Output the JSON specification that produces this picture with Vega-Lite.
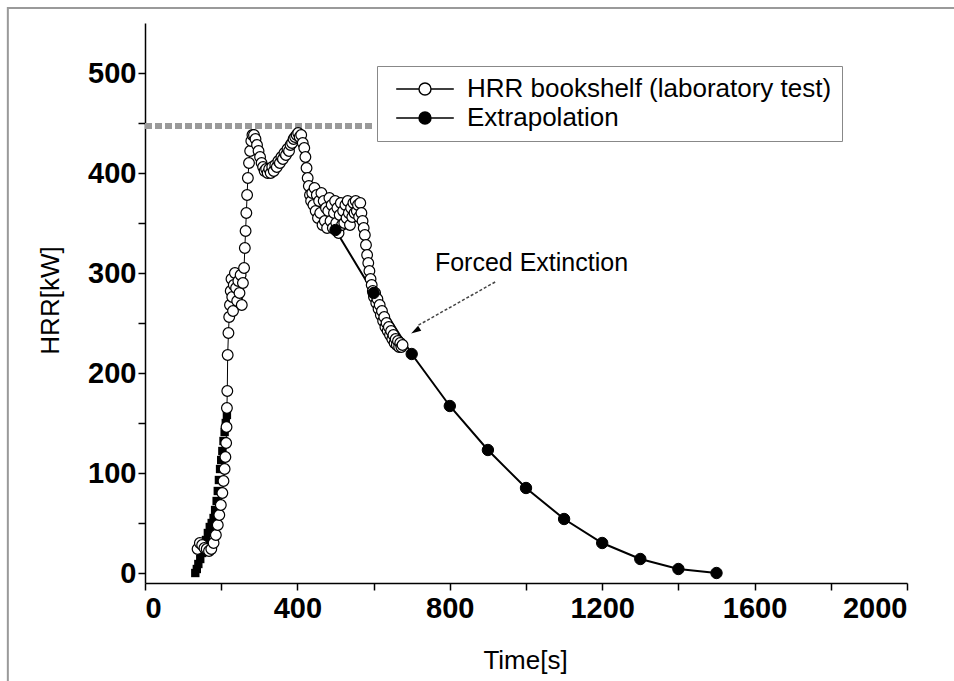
{
  "$schema": "https://vega.github.io/schema/vega-lite/v6.json",
  "width": 762,
  "height": 560,
  "autosize": {"type": "none"},
  "padding": {"left": 145, "top": 23, "right": 47, "bottom": 98},
  "background": "white",
  "config": {
    "view": {"stroke": null},
    "font": "Liberation Sans",
    "axis": {
      "grid": false,
      "domainColor": "black",
      "domainWidth": 1.5,
      "tickColor": "black",
      "tickWidth": 1.5,
      "tickSize": 7,
      "labelFont": "Liberation Sans",
      "labelFontWeight": "bold",
      "labelFontSize": 29,
      "labelColor": "black",
      "titleFont": "Liberation Sans",
      "titleFontWeight": "normal",
      "titleFontSize": 26,
      "titleColor": "black"
    },
    "legend": {
      "orient": "none",
      "legendX": 232,
      "legendY": 43,
      "padding": 10,
      "symbolOffset": 25,
      "labelOffset": 29,
      "rowPadding": 3,
      "strokeColor": "#888888",
      "fillColor": "white",
      "symbolSize": 144,
      "symbolStrokeWidth": 1.4,
      "symbolStrokeColor": "black",
      "symbolOpacity": 1,
      "labelFont": "Liberation Sans",
      "labelFontSize": 26,
      "labelColor": "black",
      "labelLimit": 0
    }
  },
  "datasets": {
    "pts": [
      {"t": 138, "hrr": 24, "s": "HRR bookshelf (laboratory test)"},
      {"t": 144, "hrr": 30, "s": "HRR bookshelf (laboratory test)"},
      {"t": 150, "hrr": 28, "s": "HRR bookshelf (laboratory test)"},
      {"t": 156, "hrr": 25, "s": "HRR bookshelf (laboratory test)"},
      {"t": 162, "hrr": 24, "s": "HRR bookshelf (laboratory test)"},
      {"t": 168, "hrr": 22, "s": "HRR bookshelf (laboratory test)"},
      {"t": 174, "hrr": 24, "s": "HRR bookshelf (laboratory test)"},
      {"t": 180, "hrr": 30, "s": "HRR bookshelf (laboratory test)"},
      {"t": 186, "hrr": 38, "s": "HRR bookshelf (laboratory test)"},
      {"t": 191, "hrr": 48, "s": "HRR bookshelf (laboratory test)"},
      {"t": 195, "hrr": 58, "s": "HRR bookshelf (laboratory test)"},
      {"t": 199, "hrr": 68, "s": "HRR bookshelf (laboratory test)"},
      {"t": 203, "hrr": 80, "s": "HRR bookshelf (laboratory test)"},
      {"t": 206, "hrr": 92, "s": "HRR bookshelf (laboratory test)"},
      {"t": 209, "hrr": 104, "s": "HRR bookshelf (laboratory test)"},
      {"t": 211, "hrr": 116, "s": "HRR bookshelf (laboratory test)"},
      {"t": 213, "hrr": 130, "s": "HRR bookshelf (laboratory test)"},
      {"t": 214, "hrr": 146, "s": "HRR bookshelf (laboratory test)"},
      {"t": 215, "hrr": 165, "s": "HRR bookshelf (laboratory test)"},
      {"t": 216, "hrr": 182, "s": "HRR bookshelf (laboratory test)"},
      {"t": 217, "hrr": 218, "s": "HRR bookshelf (laboratory test)"},
      {"t": 219, "hrr": 240, "s": "HRR bookshelf (laboratory test)"},
      {"t": 221, "hrr": 256, "s": "HRR bookshelf (laboratory test)"},
      {"t": 223, "hrr": 268, "s": "HRR bookshelf (laboratory test)"},
      {"t": 225, "hrr": 282, "s": "HRR bookshelf (laboratory test)"},
      {"t": 227, "hrr": 294, "s": "HRR bookshelf (laboratory test)"},
      {"t": 229, "hrr": 276, "s": "HRR bookshelf (laboratory test)"},
      {"t": 231, "hrr": 262, "s": "HRR bookshelf (laboratory test)"},
      {"t": 233, "hrr": 288, "s": "HRR bookshelf (laboratory test)"},
      {"t": 236, "hrr": 300, "s": "HRR bookshelf (laboratory test)"},
      {"t": 239, "hrr": 285, "s": "HRR bookshelf (laboratory test)"},
      {"t": 242, "hrr": 272, "s": "HRR bookshelf (laboratory test)"},
      {"t": 245, "hrr": 292, "s": "HRR bookshelf (laboratory test)"},
      {"t": 248, "hrr": 280, "s": "HRR bookshelf (laboratory test)"},
      {"t": 251, "hrr": 298, "s": "HRR bookshelf (laboratory test)"},
      {"t": 254, "hrr": 268, "s": "HRR bookshelf (laboratory test)"},
      {"t": 257, "hrr": 290, "s": "HRR bookshelf (laboratory test)"},
      {"t": 260, "hrr": 305, "s": "HRR bookshelf (laboratory test)"},
      {"t": 262, "hrr": 325, "s": "HRR bookshelf (laboratory test)"},
      {"t": 264, "hrr": 342, "s": "HRR bookshelf (laboratory test)"},
      {"t": 266, "hrr": 360, "s": "HRR bookshelf (laboratory test)"},
      {"t": 268, "hrr": 378, "s": "HRR bookshelf (laboratory test)"},
      {"t": 270, "hrr": 395, "s": "HRR bookshelf (laboratory test)"},
      {"t": 273, "hrr": 410, "s": "HRR bookshelf (laboratory test)"},
      {"t": 276, "hrr": 422, "s": "HRR bookshelf (laboratory test)"},
      {"t": 279, "hrr": 432, "s": "HRR bookshelf (laboratory test)"},
      {"t": 282, "hrr": 438, "s": "HRR bookshelf (laboratory test)"},
      {"t": 286, "hrr": 438, "s": "HRR bookshelf (laboratory test)"},
      {"t": 290, "hrr": 434, "s": "HRR bookshelf (laboratory test)"},
      {"t": 294, "hrr": 428, "s": "HRR bookshelf (laboratory test)"},
      {"t": 298, "hrr": 422, "s": "HRR bookshelf (laboratory test)"},
      {"t": 302, "hrr": 416, "s": "HRR bookshelf (laboratory test)"},
      {"t": 306, "hrr": 410, "s": "HRR bookshelf (laboratory test)"},
      {"t": 310, "hrr": 406, "s": "HRR bookshelf (laboratory test)"},
      {"t": 314, "hrr": 402, "s": "HRR bookshelf (laboratory test)"},
      {"t": 318, "hrr": 404, "s": "HRR bookshelf (laboratory test)"},
      {"t": 322, "hrr": 400, "s": "HRR bookshelf (laboratory test)"},
      {"t": 326, "hrr": 404, "s": "HRR bookshelf (laboratory test)"},
      {"t": 330, "hrr": 400, "s": "HRR bookshelf (laboratory test)"},
      {"t": 334, "hrr": 406, "s": "HRR bookshelf (laboratory test)"},
      {"t": 338, "hrr": 402, "s": "HRR bookshelf (laboratory test)"},
      {"t": 342, "hrr": 408, "s": "HRR bookshelf (laboratory test)"},
      {"t": 346, "hrr": 406, "s": "HRR bookshelf (laboratory test)"},
      {"t": 350, "hrr": 412, "s": "HRR bookshelf (laboratory test)"},
      {"t": 354, "hrr": 410, "s": "HRR bookshelf (laboratory test)"},
      {"t": 358, "hrr": 416, "s": "HRR bookshelf (laboratory test)"},
      {"t": 362, "hrr": 414, "s": "HRR bookshelf (laboratory test)"},
      {"t": 366, "hrr": 420, "s": "HRR bookshelf (laboratory test)"},
      {"t": 370, "hrr": 418, "s": "HRR bookshelf (laboratory test)"},
      {"t": 374, "hrr": 424, "s": "HRR bookshelf (laboratory test)"},
      {"t": 378, "hrr": 422, "s": "HRR bookshelf (laboratory test)"},
      {"t": 382, "hrr": 428, "s": "HRR bookshelf (laboratory test)"},
      {"t": 386, "hrr": 430, "s": "HRR bookshelf (laboratory test)"},
      {"t": 390, "hrr": 434, "s": "HRR bookshelf (laboratory test)"},
      {"t": 394, "hrr": 436, "s": "HRR bookshelf (laboratory test)"},
      {"t": 398, "hrr": 438, "s": "HRR bookshelf (laboratory test)"},
      {"t": 402, "hrr": 440, "s": "HRR bookshelf (laboratory test)"},
      {"t": 406, "hrr": 436, "s": "HRR bookshelf (laboratory test)"},
      {"t": 410, "hrr": 438, "s": "HRR bookshelf (laboratory test)"},
      {"t": 414, "hrr": 430, "s": "HRR bookshelf (laboratory test)"},
      {"t": 418, "hrr": 425, "s": "HRR bookshelf (laboratory test)"},
      {"t": 421, "hrr": 416, "s": "HRR bookshelf (laboratory test)"},
      {"t": 424, "hrr": 405, "s": "HRR bookshelf (laboratory test)"},
      {"t": 427, "hrr": 395, "s": "HRR bookshelf (laboratory test)"},
      {"t": 430, "hrr": 387, "s": "HRR bookshelf (laboratory test)"},
      {"t": 433, "hrr": 378, "s": "HRR bookshelf (laboratory test)"},
      {"t": 436, "hrr": 372, "s": "HRR bookshelf (laboratory test)"},
      {"t": 439, "hrr": 380, "s": "HRR bookshelf (laboratory test)"},
      {"t": 442, "hrr": 368, "s": "HRR bookshelf (laboratory test)"},
      {"t": 445, "hrr": 385, "s": "HRR bookshelf (laboratory test)"},
      {"t": 448, "hrr": 362, "s": "HRR bookshelf (laboratory test)"},
      {"t": 451, "hrr": 378, "s": "HRR bookshelf (laboratory test)"},
      {"t": 454, "hrr": 355, "s": "HRR bookshelf (laboratory test)"},
      {"t": 457, "hrr": 372, "s": "HRR bookshelf (laboratory test)"},
      {"t": 460, "hrr": 360, "s": "HRR bookshelf (laboratory test)"},
      {"t": 463, "hrr": 380, "s": "HRR bookshelf (laboratory test)"},
      {"t": 466, "hrr": 348, "s": "HRR bookshelf (laboratory test)"},
      {"t": 469, "hrr": 372, "s": "HRR bookshelf (laboratory test)"},
      {"t": 472, "hrr": 352, "s": "HRR bookshelf (laboratory test)"},
      {"t": 475, "hrr": 365, "s": "HRR bookshelf (laboratory test)"},
      {"t": 478, "hrr": 345, "s": "HRR bookshelf (laboratory test)"},
      {"t": 481, "hrr": 362, "s": "HRR bookshelf (laboratory test)"},
      {"t": 484, "hrr": 375, "s": "HRR bookshelf (laboratory test)"},
      {"t": 487, "hrr": 352, "s": "HRR bookshelf (laboratory test)"},
      {"t": 490, "hrr": 368, "s": "HRR bookshelf (laboratory test)"},
      {"t": 493, "hrr": 345, "s": "HRR bookshelf (laboratory test)"},
      {"t": 496, "hrr": 360, "s": "HRR bookshelf (laboratory test)"},
      {"t": 499, "hrr": 372, "s": "HRR bookshelf (laboratory test)"},
      {"t": 502, "hrr": 350, "s": "HRR bookshelf (laboratory test)"},
      {"t": 505, "hrr": 365, "s": "HRR bookshelf (laboratory test)"},
      {"t": 508, "hrr": 340, "s": "HRR bookshelf (laboratory test)"},
      {"t": 511, "hrr": 358, "s": "HRR bookshelf (laboratory test)"},
      {"t": 514, "hrr": 370, "s": "HRR bookshelf (laboratory test)"},
      {"t": 517, "hrr": 348, "s": "HRR bookshelf (laboratory test)"},
      {"t": 520, "hrr": 362, "s": "HRR bookshelf (laboratory test)"},
      {"t": 523, "hrr": 350, "s": "HRR bookshelf (laboratory test)"},
      {"t": 526, "hrr": 368, "s": "HRR bookshelf (laboratory test)"},
      {"t": 529, "hrr": 355, "s": "HRR bookshelf (laboratory test)"},
      {"t": 532, "hrr": 372, "s": "HRR bookshelf (laboratory test)"},
      {"t": 535, "hrr": 360, "s": "HRR bookshelf (laboratory test)"},
      {"t": 538, "hrr": 348, "s": "HRR bookshelf (laboratory test)"},
      {"t": 541, "hrr": 365, "s": "HRR bookshelf (laboratory test)"},
      {"t": 544, "hrr": 356, "s": "HRR bookshelf (laboratory test)"},
      {"t": 547, "hrr": 370, "s": "HRR bookshelf (laboratory test)"},
      {"t": 550, "hrr": 360, "s": "HRR bookshelf (laboratory test)"},
      {"t": 553, "hrr": 372, "s": "HRR bookshelf (laboratory test)"},
      {"t": 556, "hrr": 362, "s": "HRR bookshelf (laboratory test)"},
      {"t": 559, "hrr": 368, "s": "HRR bookshelf (laboratory test)"},
      {"t": 562, "hrr": 356, "s": "HRR bookshelf (laboratory test)"},
      {"t": 565, "hrr": 370, "s": "HRR bookshelf (laboratory test)"},
      {"t": 568, "hrr": 360, "s": "HRR bookshelf (laboratory test)"},
      {"t": 571, "hrr": 352, "s": "HRR bookshelf (laboratory test)"},
      {"t": 574, "hrr": 345, "s": "HRR bookshelf (laboratory test)"},
      {"t": 577, "hrr": 338, "s": "HRR bookshelf (laboratory test)"},
      {"t": 580, "hrr": 328, "s": "HRR bookshelf (laboratory test)"},
      {"t": 583, "hrr": 318, "s": "HRR bookshelf (laboratory test)"},
      {"t": 586, "hrr": 310, "s": "HRR bookshelf (laboratory test)"},
      {"t": 589, "hrr": 302, "s": "HRR bookshelf (laboratory test)"},
      {"t": 592, "hrr": 294, "s": "HRR bookshelf (laboratory test)"},
      {"t": 595, "hrr": 288, "s": "HRR bookshelf (laboratory test)"},
      {"t": 598, "hrr": 282, "s": "HRR bookshelf (laboratory test)"},
      {"t": 601, "hrr": 276, "s": "HRR bookshelf (laboratory test)"},
      {"t": 604, "hrr": 280, "s": "HRR bookshelf (laboratory test)"},
      {"t": 607, "hrr": 270, "s": "HRR bookshelf (laboratory test)"},
      {"t": 610, "hrr": 274, "s": "HRR bookshelf (laboratory test)"},
      {"t": 613, "hrr": 264, "s": "HRR bookshelf (laboratory test)"},
      {"t": 616, "hrr": 268, "s": "HRR bookshelf (laboratory test)"},
      {"t": 619, "hrr": 258, "s": "HRR bookshelf (laboratory test)"},
      {"t": 622, "hrr": 262, "s": "HRR bookshelf (laboratory test)"},
      {"t": 625, "hrr": 252, "s": "HRR bookshelf (laboratory test)"},
      {"t": 628, "hrr": 256, "s": "HRR bookshelf (laboratory test)"},
      {"t": 631, "hrr": 246, "s": "HRR bookshelf (laboratory test)"},
      {"t": 634, "hrr": 250, "s": "HRR bookshelf (laboratory test)"},
      {"t": 637, "hrr": 242, "s": "HRR bookshelf (laboratory test)"},
      {"t": 640, "hrr": 246, "s": "HRR bookshelf (laboratory test)"},
      {"t": 643, "hrr": 238, "s": "HRR bookshelf (laboratory test)"},
      {"t": 646, "hrr": 242, "s": "HRR bookshelf (laboratory test)"},
      {"t": 649, "hrr": 234, "s": "HRR bookshelf (laboratory test)"},
      {"t": 652, "hrr": 238, "s": "HRR bookshelf (laboratory test)"},
      {"t": 655, "hrr": 230, "s": "HRR bookshelf (laboratory test)"},
      {"t": 658, "hrr": 234, "s": "HRR bookshelf (laboratory test)"},
      {"t": 661, "hrr": 228, "s": "HRR bookshelf (laboratory test)"},
      {"t": 664, "hrr": 232, "s": "HRR bookshelf (laboratory test)"},
      {"t": 667, "hrr": 226, "s": "HRR bookshelf (laboratory test)"},
      {"t": 670, "hrr": 230, "s": "HRR bookshelf (laboratory test)"},
      {"t": 673, "hrr": 226, "s": "HRR bookshelf (laboratory test)"},
      {"t": 676, "hrr": 228, "s": "HRR bookshelf (laboratory test)"},
      {"t": 500, "hrr": 343, "s": "Extrapolation"},
      {"t": 600, "hrr": 280, "s": "Extrapolation"},
      {"t": 700, "hrr": 219, "s": "Extrapolation"},
      {"t": 800, "hrr": 167, "s": "Extrapolation"},
      {"t": 900, "hrr": 123, "s": "Extrapolation"},
      {"t": 1000, "hrr": 85, "s": "Extrapolation"},
      {"t": 1100, "hrr": 54, "s": "Extrapolation"},
      {"t": 1200, "hrr": 30, "s": "Extrapolation"},
      {"t": 1300, "hrr": 14, "s": "Extrapolation"},
      {"t": 1400, "hrr": 4, "s": "Extrapolation"},
      {"t": 1500, "hrr": 0, "s": "Extrapolation"}
    ],
    "sq": [
      {"t": 132, "hrr": 0}, {"t": 136, "hrr": 4}, {"t": 140, "hrr": 9}, {"t": 145, "hrr": 14},
      {"t": 150, "hrr": 20}, {"t": 155, "hrr": 26}, {"t": 160, "hrr": 33}, {"t": 165, "hrr": 40},
      {"t": 170, "hrr": 46}, {"t": 175, "hrr": 50}, {"t": 180, "hrr": 55}, {"t": 184, "hrr": 63},
      {"t": 188, "hrr": 72}, {"t": 191, "hrr": 82}, {"t": 194, "hrr": 93}, {"t": 197, "hrr": 104},
      {"t": 200, "hrr": 113}, {"t": 203, "hrr": 122}, {"t": 206, "hrr": 132}, {"t": 209, "hrr": 141},
      {"t": 212, "hrr": 150}, {"t": 215, "hrr": 158}
    ],
    "legendrows": [
      {"s": "HRR bookshelf (laboratory test)"},
      {"s": "Extrapolation"}
    ],
    "ref": [{"t0": 0, "t1": 600, "h": 447}],
    "arrow": [{"t0": 919, "h0": 291, "t1": 714, "h1": 247}],
    "head": [{"t": 709.7, "h": 242.1}],
    "note": [{"t": 761, "h": 310, "label": "Forced Extinction"}],
    "frame": [{"x0": -360, "x1": 2600, "y0": 565, "y1": -400}]
  },
  "layer": [
    {
      "data": {"name": "frame"},
      "mark": {"type": "rect", "fill": null, "stroke": "#9a9a9a", "strokeWidth": 2, "clip": false},
      "encoding": {
        "x": {"field": "x0", "type": "quantitative", "scale": {"domain": [0, 2000], "nice": false, "zero": false}},
        "x2": {"field": "x1"},
        "y": {"field": "y0", "type": "quantitative", "scale": {"domain": [-10, 550], "nice": false, "zero": false}},
        "y2": {"field": "y1"}
      }
    },
    {
      "data": {"name": "ref"},
      "mark": {"type": "rule", "color": "#9a9a9a", "strokeWidth": 6, "strokeDash": [7, 3]},
      "encoding": {
        "x": {"field": "t0", "type": "quantitative"},
        "x2": {"field": "t1"},
        "y": {"field": "h", "type": "quantitative"}
      }
    },
    {
      "data": {"name": "sq"},
      "mark": {"type": "point", "shape": "square", "filled": true, "color": "black", "size": 70, "opacity": 1},
      "encoding": {
        "x": {"field": "t", "type": "quantitative"},
        "y": {"field": "hrr", "type": "quantitative"}
      }
    },
    {
      "data": {"name": "pts"},
      "transform": [{"filter": "datum.s == 'HRR bookshelf (laboratory test)'"}],
      "mark": {"type": "line", "color": "black", "strokeWidth": 1},
      "encoding": {
        "x": {"field": "t", "type": "quantitative"},
        "y": {"field": "hrr", "type": "quantitative"}
      }
    },
    {
      "data": {"name": "pts"},
      "transform": [{"filter": "datum.s == 'Extrapolation'"}],
      "mark": {"type": "line", "color": "black", "strokeWidth": 2},
      "encoding": {
        "x": {"field": "t", "type": "quantitative"},
        "y": {"field": "hrr", "type": "quantitative"}
      }
    },
    {
      "data": {"name": "pts"},
      "transform": [{"filter": "datum.s == 'HRR bookshelf (laboratory test)'"}],
      "mark": {"type": "point", "shape": "circle", "filled": true, "fill": "white", "stroke": "black", "strokeWidth": 1.2, "size": 115, "opacity": 1},
      "encoding": {
        "x": {"field": "t", "type": "quantitative", "title": "Time[s]",
          "axis": {
            "values": [0, 200, 400, 600, 800, 1000, 1200, 1400, 1600, 1800, 2000],
            "format": "d",
            "labelExpr": "datum.value % 400 == 0 ? datum.label : ''",
            "labelPadding": 4,
            "titleX": 380,
            "titleY": 77,
            "titleBaseline": "middle",
            "titleAlign": "center"
          }
        },
        "y": {"field": "hrr", "type": "quantitative", "title": "HRR[kW]",
          "axis": {
            "values": [0, 50, 100, 150, 200, 250, 300, 350, 400, 450, 500],
            "format": "d",
            "labelExpr": "datum.value % 100 == 0 ? datum.label : ''",
            "labelPadding": 2,
            "titleX": -95,
            "titleY": 277,
            "titleAngle": 270,
            "titleBaseline": "middle",
            "titleAlign": "center"
          }
        }
      }
    },
    {
      "data": {"name": "pts"},
      "transform": [{"filter": "datum.s == 'Extrapolation'"}],
      "mark": {"type": "point", "shape": "circle", "filled": true, "fill": "black", "stroke": "black", "strokeWidth": 1, "size": 130, "opacity": 1},
      "encoding": {
        "x": {"field": "t", "type": "quantitative"},
        "y": {"field": "hrr", "type": "quantitative"}
      }
    },
    {
      "data": {"name": "legendrows"},
      "mark": {"type": "point", "filled": true, "stroke": "black", "strokeWidth": 1.4, "opacity": 0, "size": 1},
      "encoding": {
        "fill": {"field": "s", "type": "nominal", "title": null,
          "scale": {"domain": ["HRR bookshelf (laboratory test)", "Extrapolation"], "range": ["white", "black"]},
          "legend": {
            "title": null,
            "symbolType": "M-4.8,0L-1,0M1,0L4.8,0M-1,0C-1,-0.552,-0.552,-1,0,-1C0.552,-1,1,-0.552,1,0C1,0.552,0.552,1,0,1C-0.552,1,-1,0.552,-1,0Z",
            "encode": {
              "symbols": {
                "update": {
                  "shape": {"value": "M-4.8,0L-1,0M1,0L4.8,0M-1,0C-1,-0.552,-0.552,-1,0,-1C0.552,-1,1,-0.552,1,0C1,0.552,0.552,1,0,1C-0.552,1,-1,0.552,-1,0Z"},
                  "stroke": {"value": "black"},
                  "strokeWidth": {"value": 1.4},
                  "opacity": {"value": 1}
                }
              }
            }
          }
        }
      }
    },
    {
      "data": {"name": "arrow"},
      "mark": {"type": "rule", "color": "#444444", "strokeWidth": 1.5, "strokeDash": [3, 2]},
      "encoding": {
        "x": {"field": "t0", "type": "quantitative"},
        "y": {"field": "h0", "type": "quantitative"},
        "x2": {"field": "t1"},
        "y2": {"field": "h1"}
      }
    },
    {
      "data": {"name": "head"},
      "mark": {"type": "point", "shape": "M-0.852,0.524L1.166,-0.013L0.538,-1.035Z", "filled": true, "color": "black", "size": 100, "opacity": 1},
      "encoding": {
        "x": {"field": "t", "type": "quantitative"},
        "y": {"field": "h", "type": "quantitative"}
      }
    },
    {
      "data": {"name": "note"},
      "mark": {"type": "text", "align": "left", "baseline": "middle", "fontSize": 25, "font": "Liberation Sans", "color": "black"},
      "encoding": {
        "x": {"field": "t", "type": "quantitative"},
        "y": {"field": "h", "type": "quantitative"},
        "text": {"field": "label"}
      }
    }
  ]
}
